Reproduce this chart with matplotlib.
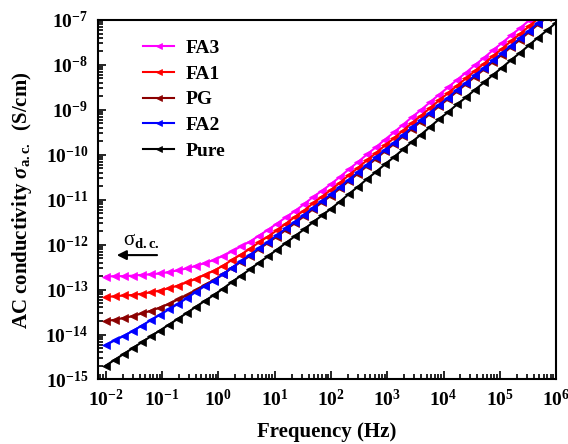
import numpy as np
import matplotlib
matplotlib.use("Agg")
import matplotlib.pyplot as plt

# frequency (log10 Hz)
freq_log = [-2.00, -1.84, -1.68, -1.52, -1.36, -1.20, -1.04, -0.88, -0.72, -0.56,
            -0.40, -0.24, -0.08, 0.08, 0.24, 0.40, 0.56, 0.72, 0.88, 1.04,
            1.20, 1.36, 1.52, 1.68, 1.84, 2.00, 2.16, 2.32, 2.48, 2.64,
            2.80, 2.96, 3.12, 3.28, 3.44, 3.60, 3.76, 3.92, 4.08, 4.24,
            4.40, 4.56, 4.72, 4.88, 5.04, 5.20, 5.36, 5.52, 5.68, 5.84, 6.00]

# AC conductivity (log10 S/cm)
fa3_log = [-12.71, -12.70, -12.70, -12.69, -12.67, -12.66, -12.64, -12.61, -12.57, -12.53,
           -12.47, -12.41, -12.34, -12.25, -12.15, -12.04, -11.93, -11.80, -11.67, -11.53,
           -11.39, -11.25, -11.10, -10.94, -10.80, -10.65, -10.49, -10.32, -10.16, -9.99,
           -9.83, -9.66, -9.50, -9.33, -9.16, -9.00, -8.83, -8.66, -8.50, -8.33,
           -8.17, -8.00, -7.84, -7.67, -7.51, -7.34, -7.18, -7.01, -6.84, -6.68, -6.51]
fa1_log = [-13.16, -13.15, -13.13, -13.12, -13.09, -13.06, -13.02, -12.97, -12.91, -12.84,
           -12.76, -12.67, -12.58, -12.47, -12.34, -12.22, -12.09, -11.95, -11.82, -11.68,
           -11.53, -11.38, -11.24, -11.08, -10.93, -10.78, -10.62, -10.45, -10.29, -10.12,
           -9.96, -9.79, -9.63, -9.46, -9.29, -9.13, -8.96, -8.79, -8.63, -8.46,
           -8.30, -8.13, -7.97, -7.80, -7.64, -7.47, -7.31, -7.14, -6.97, -6.81, -6.64]
pg_log = [-13.70, -13.67, -13.63, -13.59, -13.53, -13.47, -13.40, -13.32, -13.22, -13.13,
          -13.01, -12.90, -12.79, -12.66, -12.52, -12.38, -12.25, -12.10, -11.96, -11.82,
          -11.67, -11.52, -11.37, -11.21, -11.06, -10.91, -10.75, -10.58, -10.42, -10.25,
          -10.09, -9.92, -9.76, -9.59, -9.42, -9.26, -9.09, -8.92, -8.76, -8.59,
          -8.43, -8.26, -8.10, -7.93, -7.77, -7.60, -7.44, -7.27, -7.10, -6.94, -6.77]
fa2_log = [-14.23, -14.13, -14.03, -13.92, -13.80, -13.68, -13.56, -13.44, -13.32, -13.19,
           -13.05, -12.92, -12.80, -12.66, -12.51, -12.37, -12.23, -12.08, -11.94, -11.79,
           -11.64, -11.49, -11.34, -11.18, -11.03, -10.88, -10.72, -10.55, -10.39, -10.22,
           -10.06, -9.89, -9.73, -9.56, -9.39, -9.23, -9.06, -8.89, -8.73, -8.56,
           -8.40, -8.23, -8.07, -7.90, -7.74, -7.57, -7.41, -7.24, -7.07, -6.91, -6.74]
pure_log = [-14.69, -14.56, -14.43, -14.30, -14.17, -14.04, -13.91, -13.78, -13.65, -13.52,
            -13.38, -13.25, -13.12, -12.98, -12.83, -12.69, -12.55, -12.40, -12.26, -12.11,
            -11.96, -11.81, -11.66, -11.50, -11.35, -11.20, -11.04, -10.87, -10.71, -10.54,
            -10.38, -10.21, -10.05, -9.88, -9.71, -9.55, -9.38, -9.21, -9.05, -8.88,
            -8.72, -8.55, -8.39, -8.22, -8.06, -7.89, -7.73, -7.56, -7.39, -7.23, -7.06]

labels = ['FA3', 'FA1', 'PG', 'FA2', 'Pure']
colors = ['#ff00ff', '#ff0000', '#8b0000', '#0000ff', '#000000']
series = [fa3_log, fa1_log, pg_log, fa2_log, pure_log]

plt.rcParams['font.family'] = 'Liberation Serif'
plt.rcParams['font.weight'] = 'bold'
plt.rcParams['mathtext.fontset'] = 'custom'
plt.rcParams['mathtext.rm'] = 'Liberation Serif:bold'
plt.rcParams['mathtext.bf'] = 'Liberation Serif:bold'
plt.rcParams['mathtext.it'] = 'Liberation Serif:italic:bold'

fig = plt.figure(figsize=(5.68, 4.44), dpi=100)
ax = fig.add_axes([0.1725, 0.1453, 0.8065, 0.8097])

freq = 10 ** np.array(freq_log)
for lab, col, s in zip(labels, colors, series):
    ax.plot(freq, 10 ** np.array(s), color=col, marker='<', markersize=6,
            linewidth=1.5, markeredgewidth=0.5, label=lab)

ax.set_xscale('log')
ax.set_yscale('log')
ax.set_xlim(10 ** -2.14, 1e6)
ax.set_ylim(1e-15, 1e-7)

ax.set_xticks([10.0 ** e for e in range(-2, 7)])
ax.set_xticklabels([r'$10^{%d}$' % e for e in range(-2, 7)])
ax.set_yticks([10.0 ** e for e in range(-15, -6)])
ax.set_yticklabels([r'$10^{%d}$' % e for e in range(-15, -6)])
ax.xaxis.set_minor_locator(matplotlib.ticker.LogLocator(base=10, subs=np.arange(2, 10), numticks=20))
ax.yaxis.set_minor_locator(matplotlib.ticker.LogLocator(base=10, subs=np.arange(2, 10), numticks=20))
ax.xaxis.set_minor_formatter(matplotlib.ticker.NullFormatter())
ax.yaxis.set_minor_formatter(matplotlib.ticker.NullFormatter())

ax.tick_params(which='both', direction='in', top=False, right=False, labelsize=14, width=1.2)
ax.tick_params(which='major', length=6, pad=7)
ax.tick_params(which='minor', length=3.5)
for sp in ax.spines.values():
    sp.set_linewidth(1.5)

ax.set_xlabel('Frequency (Hz)', fontsize=15, fontweight='bold', labelpad=8)
ax.set_ylabel(r'AC conductivity $\sigma_{\rm a.c.}$  (S/cm)', fontsize=15, fontweight='bold', labelpad=8)

leg = ax.legend(loc='upper left', bbox_to_anchor=(0.06, 0.995), frameon=False, fontsize=14,
                numpoints=1, handlelength=1.6, labelspacing=0.42, handletextpad=0.6,
                markerscale=0.7)

ax.text(0.055, 0.375, r'σ$_{\rm d.c.}$', transform=ax.transAxes, fontsize=15, fontweight='normal')
ax.annotate('', xy=(0.035, 0.346), xytext=(0.135, 0.346), xycoords='axes fraction',
            arrowprops=dict(arrowstyle='-|>', color='black', lw=1.5, mutation_scale=14))

fig.savefig('out.png', dpi=100)
